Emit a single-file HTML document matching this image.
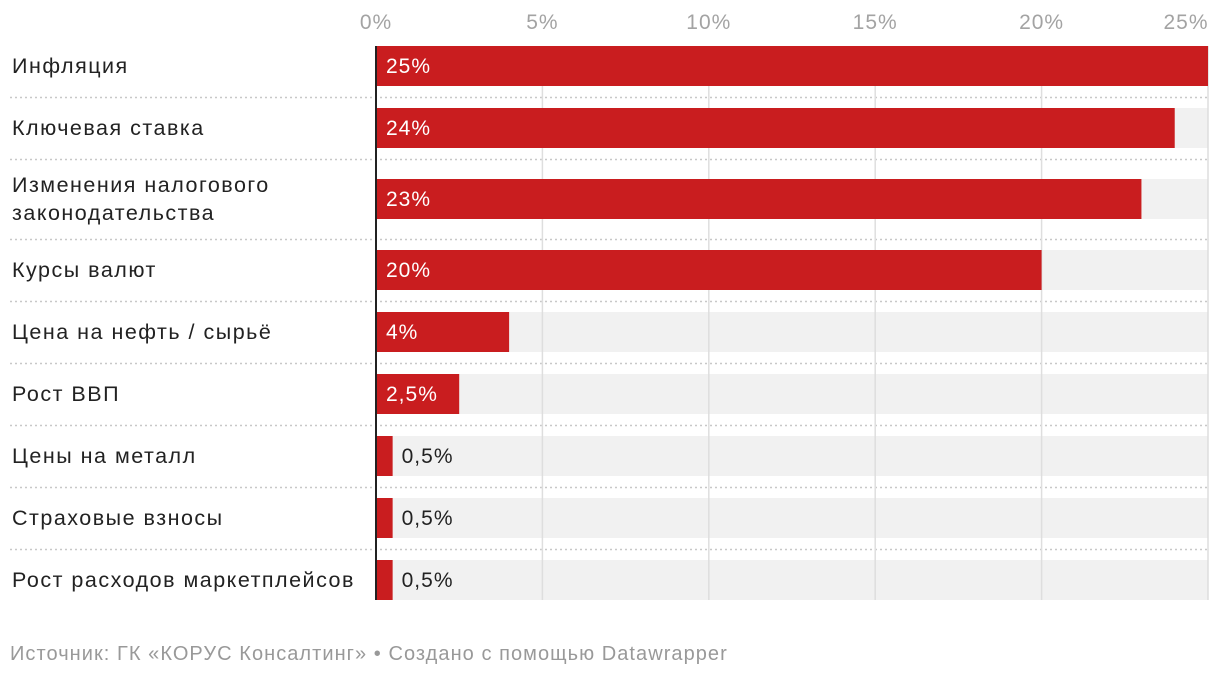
<!DOCTYPE html>
<html><head><meta charset="utf-8"><style>
body{margin:0;background:#fff;font-family:"Liberation Sans","DejaVu Sans",sans-serif;}
svg{display:block}
</style></head><body>
<svg id="c" width="1220" height="676" style="font-family:'Liberation Sans','DejaVu Sans',sans-serif"></svg>
<script>
const categories=[["Инфляция"],["Ключевая ставка"],["Изменения налогового","законодательства"],["Курсы валют"],["Цена на нефть / сырьё"],["Рост ВВП"],["Цены на металл"],["Страховые взносы"],["Рост расходов маркетплейсов"]];
const values=[25,24,23,20,4,2.5,0.5,0.5,0.5];
const valueLabels=["25%","24%","23%","20%","4%","2,5%","0,5%","0,5%","0,5%"];
const ticks=[0,5,10,15,20,25];
const tickLabels=["0%","5%","10%","15%","20%","25%"];
const svg=document.getElementById('c');
const NS='http://www.w3.org/2000/svg';
const x0=376,x1=1208,max=25;
const x=v=>x0+(v/max)*(x1-x0);
function mk(t,a,txt){const e=document.createElementNS(NS,t);for(const k in a)e.setAttribute(k,a[k]);if(txt!=null)e.textContent=txt;svg.appendChild(e);return e;}
const rowH=[62,62,80,62,62,62,62,62,62];
let tops=[];let y=35;for(let i=0;i<rowH.length;i++){tops.push(y);y+=rowH[i];}
const LS='1.5px';
ticks.forEach((t,i)=>{
 const tl=mk('text',{x:i==ticks.length-1?x(t)-22:x(t),y:29,'text-anchor':'middle','font-size':21,fill:'#a3a3a3','letter-spacing':'1px'},tickLabels[i]);
 
 
});
categories.forEach((c,i)=>{
 const cy=tops[i]+rowH[i]/2;
 const by=cy-20;
 if(i>0){const d=mk('line',{x1:10,x2:1208,y1:tops[i]+0.5,y2:tops[i]+0.5,stroke:'#c8c8c8','stroke-width':1.5,'stroke-dasharray':'2,3'});
 
 }
 const bg=mk('rect',{x:x0,y:by,width:x1-x0,height:40,fill:'#f1f1f1'});
 
 
});
ticks.forEach((t,i)=>{
 if(i>0){const g=mk('line',{x1:x(t),x2:x(t),y1:46,y2:600,stroke:'#dedede','stroke-width':1.5});
 
 }
});
categories.forEach((c,i)=>{
 const cy=tops[i]+rowH[i]/2;
 const by=cy-20;
 const b=mk('rect',{x:x0,y:by,width:x(values[i])-x0,height:40,fill:'#c91d1f'});
 
 
 const inside=values[i]>=2;
 const vl=mk('text',{x:inside?x0+10:x(values[i])+9,y:cy+7,'font-size':21,fill:inside?'#fff':'#222','letter-spacing':'1px'},valueLabels[i]);
 
 
 c.forEach((line,j)=>{
  const ly=cy+7+(c.length>1?(j-0.5)*28:0);
  const l=mk('text',{x:12,y:ly,'font-size':21.5,fill:'#222','letter-spacing':LS},line);
  
  
 });
});
const ax=mk('line',{x1:x0,x2:x0,y1:46,y2:600,stroke:'#222','stroke-width':2});


const f=mk('text',{x:10,y:660,'font-size':20,fill:'#999','letter-spacing':'1.05px'},"Источник: ГК «КОРУС Консалтинг» • Создано с помощью Datawrapper");


</script>
</body></html>
